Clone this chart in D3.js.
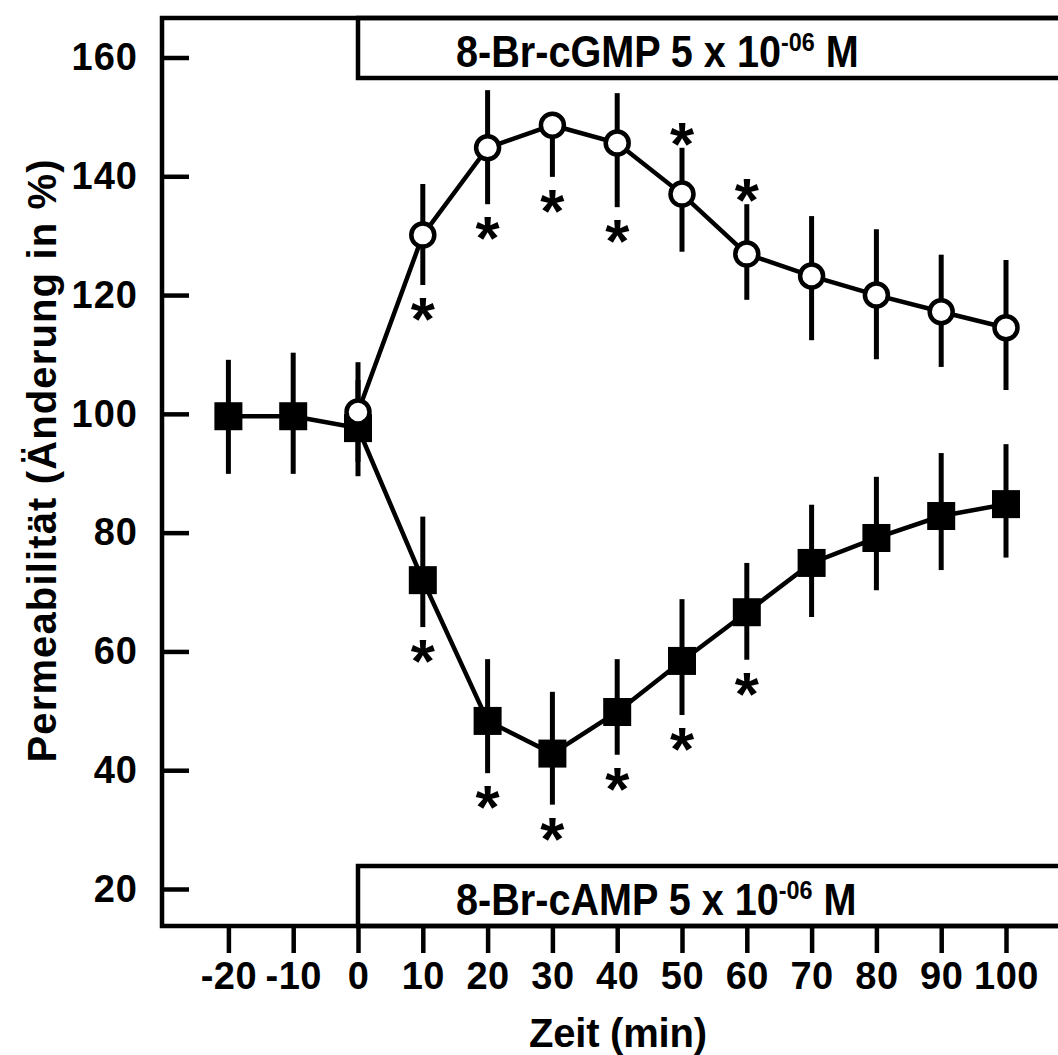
<!DOCTYPE html>
<html>
<head>
<meta charset="utf-8">
<script src="https://cdn.jsdelivr.net/npm/d3@7"></script>
<style>
  body { margin: 0; background: #fff; }
  text { font-family: "Liberation Sans", Arial, Helvetica, sans-serif; font-weight: bold; fill: #000; }
</style>
</head>
<body>
<svg id="chart"></svg>
<script>
var width = 1058;
var height = 1055;

// x ticks and y ticks
var xTicks = [-20, -10, 0, 10, 20, 30, 40, 50, 60, 70, 80, 90, 100];
var yTicks = [20, 40, 60, 80, 100, 120, 140, 160];

// 8-Br-cGMP (open circles)
var cgmpTime = [0, 10, 20, 30, 40, 50, 60, 70, 80, 90, 100];
var cgmpMean = [100.3, 130.1, 144.8, 148.6, 145.6, 137.0, 126.9, 123.2, 120.0, 117.2, 114.5];
var cgmpErrUp = [8.4, 8.6, 9.7, 0, 8.4, 7.8, 8.4, 10.1, 11.1, 9.6, 11.4];
var cgmpErrDown = [8.4, 8.4, 9.5, 8.7, 10.8, 9.7, 7.7, 10.8, 10.8, 9.3, 10.5];
var cgmpSig = [10, 20, 30, 40, 50, 60];
var cgmpSigSide = ["below", "below", "below", "below", "above", "above"];

// 8-Br-cAMP (filled squares)
var campTime = [-20, -10, 0, 10, 20, 30, 40, 50, 60, 70, 80, 90, 100];
var campMean = [99.6, 99.6, 97.6, 72.0, 48.3, 42.8, 49.8, 58.4, 66.6, 74.9, 79.1, 82.8, 84.8];
var campErrUp = [9.5, 10.7, 8.1, 10.7, 10.4, 10.4, 8.9, 10.4, 8.3, 9.8, 10.3, 10.6, 10.1];
var campErrDown = [9.7, 9.7, 8.1, 7.9, 8.8, 8.6, 7.2, 9.1, 8.0, 9.1, 8.8, 9.1, 9.0];
var campSig = [10, 20, 30, 40, 50, 60];
var campSigSide = ["below", "below", "below", "below", "below", "below"];

var x = d3.scaleLinear().domain([0, 100]).range([358, 1006]);
var y = d3.scaleLinear().domain([20, 160]).range([889, 57.5]);

var frameLeft = 162, frameRight = 1075, frameTop = 18, frameBottom = 926;
var boxH = 60;
var sw = 4.5;

var svg = d3.select("#chart")
  .attr("width", width)
  .attr("height", height);

function rows(time, mean, up, down) {
  return time.map(function(t, i) {
    return { t: t, v: mean[i], up: up[i], down: down[i] };
  });
}
var cgmp = rows(cgmpTime, cgmpMean, cgmpErrUp, cgmpErrDown);
var camp = rows(campTime, campMean, campErrUp, campErrDown);

// treatment boxes
svg.append("rect")
  .attr("x", x(0)).attr("y", frameTop)
  .attr("width", frameRight + 20 - x(0)).attr("height", boxH)
  .attr("fill", "#fff").attr("stroke", "#000").attr("stroke-width", sw);
svg.append("rect")
  .attr("x", x(0)).attr("y", frameBottom - boxH)
  .attr("width", frameRight + 20 - x(0)).attr("height", boxH)
  .attr("fill", "#fff").attr("stroke", "#000").attr("stroke-width", sw);

// condensed look: bigger font squeezed sideways
function boxLabel(yBase, name) {
  var t = svg.append("text")
    .attr("transform", "translate(456," + yBase + ") scale(0.9,1)")
    .style("font-size", "44px");
  t.append("tspan").text(name + " 5 x 10");
  t.append("tspan").attr("dy", -16).style("font-size", "26px").text("-06");
  t.append("tspan").attr("dy", 16).text(" M");
}
boxLabel(frameTop + 49, "8-Br-cGMP");
boxLabel(frameBottom - 11, "8-Br-cAMP");

// frame
svg.append("path")
  .attr("d", "M" + frameRight + "," + frameTop + "H" + frameLeft + "V" + frameBottom + "H" + frameRight)
  .attr("fill", "none").attr("stroke", "#000").attr("stroke-width", sw);

var plain = function(d) { return String(d); };

// y axis
var gy = svg.append("g")
  .attr("transform", "translate(" + frameLeft + ",0)")
  .call(d3.axisLeft(y).tickValues(yTicks).tickFormat(plain)
    .tickSizeInner(-27).tickSizeOuter(0).tickPadding(24));
gy.select(".domain").remove();
gy.selectAll(".tick line").attr("stroke", "#000").attr("stroke-width", sw);
gy.selectAll(".tick text")
  .style("font-size", "38px")
  .style("letter-spacing", "1px")
  .style("font-family", "'Liberation Sans', Arial, sans-serif");

// x axis
var gx = svg.append("g")
  .attr("transform", "translate(0," + frameBottom + ")")
  .call(d3.axisBottom(x).tickValues(xTicks).tickFormat(plain)
    .tickSizeInner(27).tickSizeOuter(0).tickPadding(9));
gx.select(".domain").remove();
gx.selectAll(".tick line").attr("stroke", "#000").attr("stroke-width", sw);
gx.selectAll(".tick text")
  .style("font-size", "38px")
  .style("letter-spacing", "0.5px")
  .style("font-family", "'Liberation Sans', Arial, sans-serif");

// axis titles
svg.append("text")
  .attr("x", 618)
  .attr("y", 1047)
  .style("text-anchor", "middle")
  .style("font-size", "40px")
  .attr("textLength", 178)
  .text("Zeit (min)");

svg.append("text")
  .attr("transform", "translate(56," + 461 + ") rotate(-90)")
  .style("text-anchor", "middle")
  .style("font-size", "40px")
  .attr("textLength", 603)
  .text("Permeabilität (Änderung in %)");

// error bars
function errorBars(data) {
  svg.append("g").selectAll("line")
    .data(data)
    .enter()
      .append("line")
        .attr("x1", function(d) { return x(d.t); })
        .attr("x2", function(d) { return x(d.t); })
        .attr("y1", function(d) { return y(d.v + d.up); })
        .attr("y2", function(d) { return y(d.v - d.down); })
        .attr("stroke", "#000")
        .attr("stroke-width", 5);
}
errorBars(camp);
errorBars(cgmp);

// connecting lines
var line = d3.line()
  .x(function(d) { return x(d.t); })
  .y(function(d) { return y(d.v); });

svg.append("path").datum(camp)
  .attr("d", line)
  .attr("fill", "none").attr("stroke", "#000").attr("stroke-width", sw);
svg.append("path").datum(cgmp)
  .attr("d", line)
  .attr("fill", "none").attr("stroke", "#000").attr("stroke-width", sw);

// markers
var sq = 28;
svg.append("g").selectAll("rect")
  .data(camp)
  .enter()
    .append("rect")
      .attr("x", function(d) { return x(d.t) - sq / 2; })
      .attr("y", function(d) { return y(d.v) - sq / 2; })
      .attr("width", sq)
      .attr("height", sq)
      .attr("fill", "#000");

svg.append("g").selectAll("circle")
  .data(cgmp)
  .enter()
    .append("circle")
      .attr("cx", function(d) { return x(d.t); })
      .attr("cy", function(d) { return y(d.v); })
      .attr("r", 11.5)
      .attr("fill", "#fff")
      .attr("stroke", "#000")
      .attr("stroke-width", sw);

// significance asterisks
function stars(data, sig, side) {
  var pts = sig.map(function(t, i) {
    var d = data.find(function(e) { return e.t === t; });
    var end = side[i] === "above" ? y(d.v + d.up) - 19 : y(d.v - d.down) + 19;
    return { t: t, cy: end };
  });
  svg.append("g").selectAll("text")
    .data(pts)
    .enter()
      .append("text")
        .attr("x", function(d) { return x(d.t); })
        .attr("y", function(d) { return d.cy + 36; })
        .style("text-anchor", "middle")
        .style("font-size", "62px")
        .text("*");
}
stars(cgmp, cgmpSig, cgmpSigSide);
stars(camp, campSig, campSigSide);
</script>
</body>
</html>
